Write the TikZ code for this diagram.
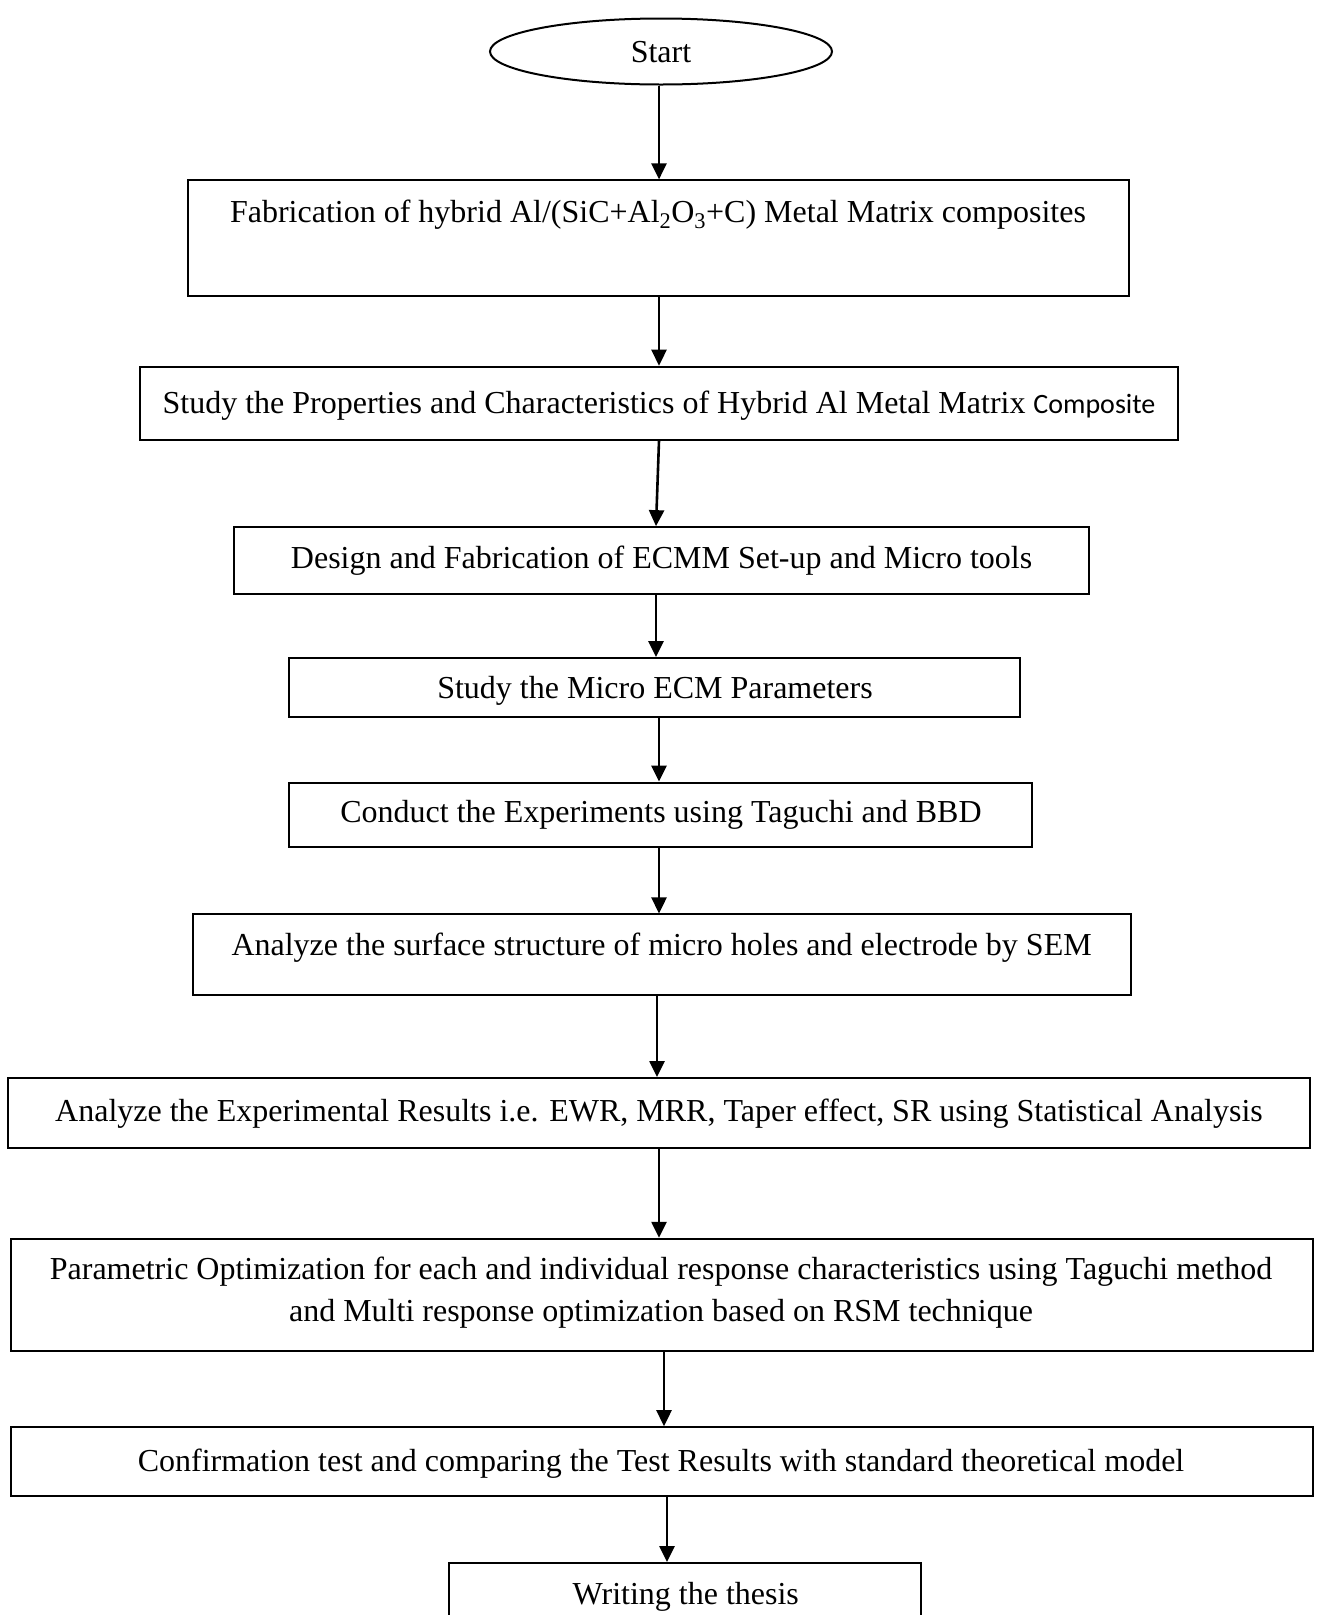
\documentclass[tikz,border=0pt]{standalone}
\usepackage{fontspec}
\setmainfont{Liberation Serif}
\newfontfamily\calfont{Carlito}
\usetikzlibrary{shapes.geometric,arrows.meta}
\begin{document}
\begin{tikzpicture}[x=1pt,y=-1pt,
  box/.style={draw,line width=2pt,inner sep=0pt},
  txt/.style={anchor=base,inner sep=0pt,font=\fontsize{32}{40}\selectfont},
  arr/.style={line width=2.6pt,-{Triangle[length=16pt,width=15pt]}}]
\clip (0,0) rectangle (1317,1615);
\fill[white] (0,0) rectangle (1317,1615);
\node[draw,line width=2pt,ellipse,minimum width=342pt,minimum height=66pt,inner sep=0pt] (st) at (661,51.5) {};
\node[txt] (tst) at (661,62) {Start};
\node[box,minimum width=941pt,minimum height=116pt] (b1) at (658,238.4) {};
\node[txt] (t1) at (658,222) {Fabrication of hybrid Al/(SiC+Al\textsubscript{2}O\textsubscript{3}+C) Metal Matrix composites};
\node[box,minimum width=1038pt,minimum height=73pt] (b2) at (659,403.2) {};
\node[txt] (t2) at (659,413.6) {Study the Properties and Characteristics of Hybrid Al Metal Matrix {\calfont\fontsize{28}{36}\selectfont Composite}};
\node[box,minimum width=855.7pt,minimum height=66.9pt] (b3) at (661.5,560.6) {};
\node[txt] (t3) at (661.6,568) {Design and Fabrication of ECMM Set-up and Micro tools};
\node[box,minimum width=731pt,minimum height=58.7pt] (b4) at (654.9,687.4) {};
\node[txt] (t4) at (655,698.8) {Study the Micro ECM Parameters};
\node[box,minimum width=742.5pt,minimum height=64.8pt] (b5) at (660.5,815) {};
\node[txt] (t5) at (661,822.4) {Conduct the Experiments using Taguchi and BBD};
\node[box,minimum width=938pt,minimum height=80.3pt] (b6) at (661.6,954.6) {};
\node[txt] (t6) at (661.6,955.2) {Analyze the surface structure of micro holes and electrode by SEM};
\node[box,minimum width=1301.6pt,minimum height=70pt] (b7) at (659,1113) {};
\node[txt] (t7) at (659,1121) {Analyze the Experimental Results i.e. EWR, MRR, Taper effect, SR using Statistical Analysis};
\node[box,minimum width=1301.6pt,minimum height=112.3pt] (b8) at (662.1,1294.9) {};
\node[txt] (t8a) at (661,1279.6) {Parametric Optimization for each and individual response characteristics using Taguchi method};
\node[txt] (t8b) at (661,1321.8) {and Multi response optimization based on RSM technique};
\node[box,minimum width=1301.6pt,minimum height=69pt] (b9) at (662.1,1461.7) {};
\node[txt] (t9) at (661,1471) {Confirmation test and comparing the Test Results with standard theoretical model};
\node[box,minimum width=471.5pt,minimum height=100pt] (b10) at (684.8,1613) {};
\node[txt] (t10) at (685.8,1604) {Writing the thesis};
\draw[arr] (st.south -| 659,0) -- (b1.north -| 659,0);
\draw[arr] (b1.south -| 659,0) -- (b2.north -| 659,0);
\draw[arr] (b2.south -| 659,0) -- (b3.north -| 656,0);
\draw[arr] (b3.south -| 656,0) -- (b4.north -| 656,0);
\draw[arr] (b4.south -| 659,0) -- (b5.north -| 659,0);
\draw[arr] (b5.south -| 659,0) -- (b6.north -| 659,0);
\draw[arr] (b6.south -| 657,0) -- (b7.north -| 657,0);
\draw[arr] (b7.south -| 659,0) -- (b8.north -| 659,0);
\draw[arr] (b8.south -| 664,0) -- (b9.north -| 664,0);
\draw[arr] (b9.south -| 667,0) -- (b10.north -| 667,0);
\end{tikzpicture}
\end{document}
